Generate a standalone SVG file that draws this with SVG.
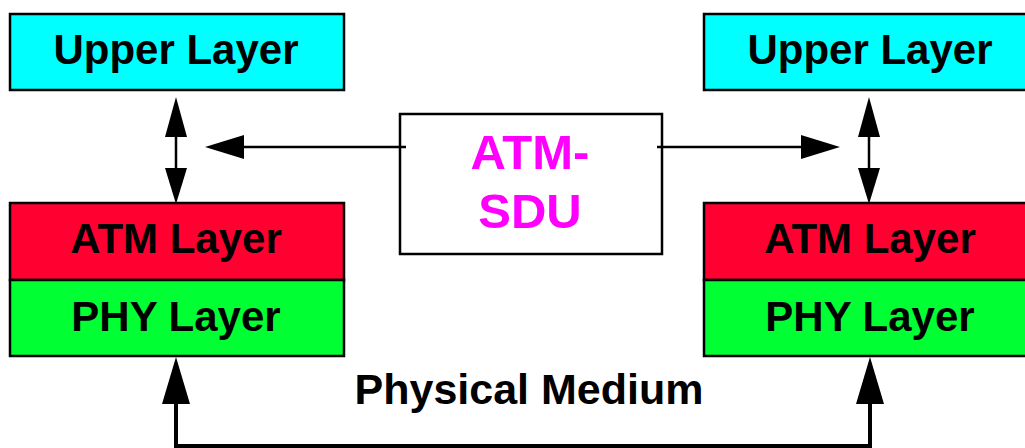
<svg xmlns="http://www.w3.org/2000/svg" width="1025" height="448" viewBox="0 0 1025 448">
<style>
.box{stroke:#000;stroke-width:2.5}
.t{font-family:"Liberation Sans",Arial,sans-serif;font-weight:bold;font-size:42px;text-anchor:middle;fill:#000}
.m{fill:#ff00ff;font-size:49px}
.pm{font-size:43px}
.ln{stroke:#000;stroke-width:2.5;fill:none}
.thick{stroke:#000;stroke-width:4;fill:none}
.ah{fill:#000}
</style>
<rect width="1025" height="448" fill="#fff"/>
<g id="upper-left"><rect class="box" x="10" y="14" width="334" height="76" fill="#00ffff"/><text class="t" x="176" y="64">Upper Layer</text></g>
<g id="upper-right"><rect class="box" x="704" y="14" width="334" height="76" fill="#00ffff"/><text class="t" x="870" y="64">Upper Layer</text></g>
<g id="atm-left"><rect class="box" x="10" y="203" width="334" height="77" fill="#ff0030"/><text class="t" x="176" y="253">ATM Layer</text></g>
<g id="phy-left"><rect class="box" x="10" y="280" width="334" height="76" fill="#00ff33"/><text class="t" x="176" y="331">PHY Layer</text></g>
<g id="atm-right"><rect class="box" x="704" y="203" width="334" height="77" fill="#ff0030"/><text class="t" x="870" y="253">ATM Layer</text></g>
<g id="phy-right"><rect class="box" x="704" y="280" width="334" height="76" fill="#00ff33"/><text class="t" x="870" y="331">PHY Layer</text></g>
<g id="atm-sdu"><rect class="box" x="400" y="114" width="262" height="140" fill="#fff"/><text class="t m" x="530" y="169">ATM-</text><text class="t m" x="530" y="228">SDU</text></g>
<g id="medium-label"><text class="t pm" x="529" y="404">Physical Medium</text></g>
<g id="connectors">
<line class="ln" x1="176" y1="130" x2="176" y2="175"/>
<polygon class="ah" points="176,97 165,137 187,137"/>
<polygon class="ah" points="176,204 165,168 187,168"/>
<line class="ln" x1="869" y1="130" x2="869" y2="175"/>
<polygon class="ah" points="869,97 858,137 880,137"/>
<polygon class="ah" points="869,204 858,168 880,168"/>
<line class="ln" x1="240" y1="147" x2="406" y2="147"/>
<polygon class="ah" points="205,147 244,135 244,159"/>
<line class="ln" x1="657" y1="147" x2="805" y2="147"/>
<polygon class="ah" points="840,147 801,135 801,159"/>
<polyline class="thick" points="176,400 176,446 870,446 870,400"/>
<polygon class="ah" points="176,357 162,404 190,404"/>
<polygon class="ah" points="870,357 856,404 884,404"/>
</g>
</svg>
